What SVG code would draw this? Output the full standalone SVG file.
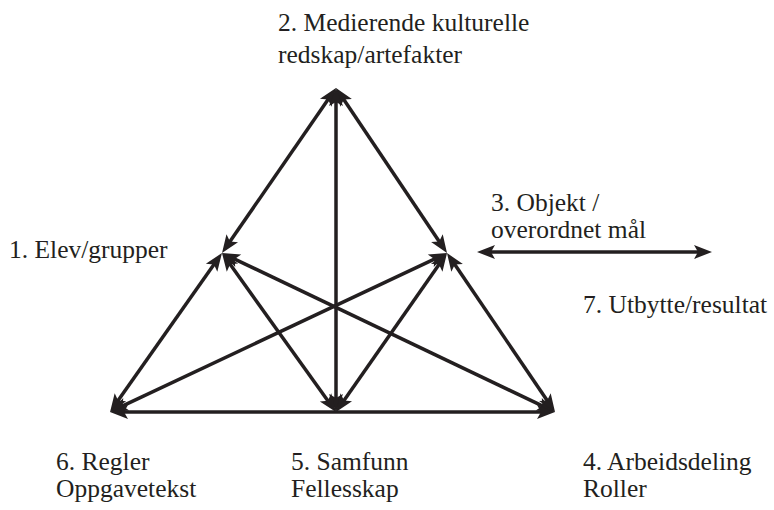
<svg xmlns="http://www.w3.org/2000/svg" width="774" height="510" viewBox="0 0 774 510">
  <style>
    .lbl { font-family: "Liberation Serif", "Times New Roman", serif; font-size: 25.5px; fill: #231f20; }
    .link { stroke: #231f20; stroke-width: 3.5; fill: none; marker-start: url(#head); marker-end: url(#head); }
  </style>
  <defs>
    <marker id="head" markerUnits="userSpaceOnUse" markerWidth="20" markerHeight="16" refX="8" refY="7" orient="auto-start-reverse" overflow="visible">
      <path d="M0,0 L18,7 L0,14 L4,7 Z" fill="#231f20"/>
    </marker>
  </defs>
  <rect width="774" height="510" fill="#ffffff"/>

  <g id="connectors">
    <line class="link" x1="330.3" y1="96.2" x2="227.7" y2="244.8"/>
    <line class="link" x1="341.6" y1="96.3" x2="441.4" y2="244.7"/>
    <line class="link" x1="336" y1="98" x2="336" y2="402"/>
    <line class="link" x1="216.2" y1="261.2" x2="115.8" y2="403.8"/>
    <line class="link" x1="227.8" y1="261.1" x2="330.2" y2="403.9"/>
    <line class="link" x1="231.0" y1="257.3" x2="546.0" y2="407.7"/>
    <line class="link" x1="438.0" y1="257.3" x2="119.0" y2="407.7"/>
    <line class="link" x1="441.3" y1="261.2" x2="341.7" y2="403.8"/>
    <line class="link" x1="452.6" y1="261.3" x2="549.4" y2="403.7"/>
    <line class="link" x1="120" y1="412" x2="545" y2="412"/>
    <line class="link" x1="487" y1="252" x2="702" y2="252"/>
  </g>

  <g id="node2">
    <text class="lbl" x="278" y="31">2. Medierende kulturelle</text>
    <text class="lbl" x="278" y="63">redskap/artefakter</text>
  </g>
  <g id="node3">
    <text class="lbl" x="491" y="211">3. Objekt /</text>
    <text class="lbl" x="491" y="238">overordnet mål</text>
  </g>
  <g id="node1">
    <text class="lbl" x="9" y="258">1. Elev/grupper</text>
  </g>
  <g id="node7">
    <text class="lbl" x="583" y="313">7. Utbytte/resultat</text>
  </g>
  <g id="node6">
    <text class="lbl" x="56" y="470">6. Regler</text>
    <text class="lbl" x="56" y="497">Oppgavetekst</text>
  </g>
  <g id="node5">
    <text class="lbl" x="291" y="470">5. Samfunn</text>
    <text class="lbl" x="291" y="497">Fellesskap</text>
  </g>
  <g id="node4">
    <text class="lbl" x="583" y="470">4. Arbeidsdeling</text>
    <text class="lbl" x="583" y="497">Roller</text>
  </g>
</svg>
